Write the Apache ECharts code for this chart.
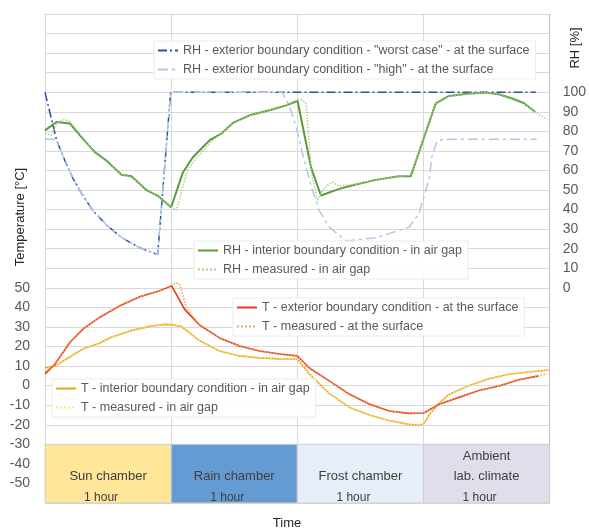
<!DOCTYPE html>
<html>
<head>
<meta charset="utf-8">
<script src="https://cdn.jsdelivr.net/npm/echarts@6/dist/echarts.min.js"></script>
<style>
  html, body { margin: 0; padding: 0; background: #ffffff; }
  #chart { width: 589px; height: 532px; }
</style>
</head>
<body>
<div id="chart"></div>
<script>
// Each point is [time in hours, value]. RH in %, temperature in °C.
const rhWorstCase = [
  [0, 100], [0.092, 75.4], [0.158, 65], [0.221, 56], [0.292, 48], [0.379, 39.5],
  [0.49, 32], [0.609, 25.6], [0.751, 20.5], [0.893, 17], [0.996, 100], [3.89, 100]
];
const rhHigh = [
  [0, 76], [0.065, 76], [0.092, 75.4], [0.158, 65], [0.221, 56], [0.292, 48],
  [0.379, 39.5], [0.49, 32], [0.609, 25.6], [0.751, 20.5], [0.893, 17], [0.996, 100],
  [1.88, 100], [1.937, 93], [1.992, 82], [2.055, 65], [2.119, 50], [2.174, 39.5],
  [2.253, 31], [2.387, 24], [2.625, 25.6], [2.885, 31], [2.964, 38], [3.043, 55],
  [3.067, 67], [3.107, 75], [3.162, 76], [3.897, 76]
];
const rhInterior = [
  [0, 80.5], [0.092, 84.8], [0.198, 84], [0.303, 76], [0.395, 69.4], [0.488, 65],
  [0.606, 57.8], [0.685, 57], [0.804, 50], [0.896, 47], [1.0, 41.2], [1.093, 59],
  [1.172, 66.8], [1.304, 75.4], [1.397, 78.8], [1.489, 84.3], [1.621, 88.2],
  [1.779, 90.8], [1.911, 93.3], [2.002, 95.5], [2.108, 61.7], [2.187, 47.2],
  [2.332, 50.6], [2.464, 52.8], [2.622, 55.2], [2.806, 57], [2.899, 57],
  [3.096, 94.2], [3.202, 98.1], [3.36, 99.3], [3.492, 99.8], [3.597, 99],
  [3.702, 96.8], [3.794, 94.5], [3.887, 89.9]
];
const rhMeasured = [
  [0, 79], [0.05, 78], [0.092, 84], [0.15, 86], [0.198, 85], [0.303, 76.5],
  [0.395, 69], [0.488, 64.5], [0.606, 58], [0.685, 56.5], [0.804, 50.5],
  [0.896, 46.5], [0.97, 43], [1.04, 39.5], [1.13, 60], [1.172, 64], [1.304, 74],
  [1.397, 79], [1.489, 84], [1.621, 88], [1.779, 91], [1.911, 93.5], [2.0, 96],
  [2.04, 96.2], [2.07, 94], [2.11, 60], [2.16, 44.6], [2.2, 50], [2.25, 53],
  [2.28, 54], [2.33, 52], [2.464, 53], [2.622, 55], [2.806, 57], [2.899, 57.5],
  [3.096, 94], [3.202, 98], [3.36, 99.3], [3.492, 99.8], [3.597, 99], [3.702, 96.5],
  [3.794, 94], [3.887, 90], [3.98, 86]
];
const tExterior = [
  [0, 6], [0.079, 11], [0.198, 22.2], [0.303, 29], [0.435, 35], [0.593, 40.8],
  [0.751, 45.4], [0.909, 48.5], [1.004, 51], [1.107, 39], [1.225, 31], [1.383, 24.4],
  [1.542, 20.3], [1.7, 17.7], [1.858, 16.2], [2.0, 15.2], [2.095, 9], [2.253, 2.4],
  [2.411, -4.3], [2.569, -9.4], [2.727, -13], [2.885, -14.2], [3.004, -14],
  [3.123, -9.5], [3.281, -6], [3.439, -2.5], [3.597, -0.2], [3.755, 3], [3.913, 5]
];
const tMeasuredSurface = [
  [0, 7.5], [0.05, 9], [0.079, 11.5], [0.198, 22], [0.303, 29], [0.435, 35],
  [0.593, 40.8], [0.751, 45.4], [0.909, 48.5], [1.004, 51.5], [1.04, 52.5],
  [1.07, 51.5], [1.12, 40], [1.225, 31], [1.383, 24.4], [1.542, 20.3], [1.7, 17.7],
  [1.858, 16.2], [2.0, 15.2], [2.095, 9], [2.253, 2.4], [2.411, -4.3], [2.569, -9.4],
  [2.727, -13], [2.885, -14.2], [3.004, -14], [3.123, -9.5], [3.281, -6],
  [3.439, -2.5], [3.597, -0.2], [3.755, 3], [3.98, 6]
];
const tInterior = [
  [0, 9], [0.079, 10], [0.17, 13.6], [0.303, 18.8], [0.435, 21.8], [0.514, 24.5],
  [0.672, 28], [0.83, 30.3], [0.95, 31.3], [1.004, 31.2], [1.083, 30.2], [1.225, 23],
  [1.383, 17.7], [1.542, 15.2], [1.7, 14.2], [1.858, 13.7], [2.0, 13.6], [2.095, 6],
  [2.253, -4], [2.411, -11], [2.569, -15], [2.727, -17.8], [2.885, -19.8],
  [2.964, -20.3], [3.004, -19.5], [3.044, -15], [3.123, -9], [3.202, -4.5],
  [3.36, 0], [3.518, 3.5], [3.676, 5.8], [3.834, 7], [3.992, 8]
];
const tMeasuredGap = [
  [0, 8.5], [0.079, 10], [0.17, 13.8], [0.303, 19], [0.435, 22], [0.514, 24.6],
  [0.672, 28], [0.83, 30.3], [0.95, 31.3], [1.004, 31.3], [1.083, 30.3], [1.225, 23.2],
  [1.383, 17.8], [1.542, 15.3], [1.7, 14.3], [1.858, 13.8], [2.0, 13.6], [2.095, 6.2],
  [2.253, -4], [2.411, -11], [2.569, -15], [2.727, -17.8], [2.885, -19.8],
  [2.964, -20.3], [3.004, -19.5], [3.044, -15], [3.123, -9], [3.202, -4.5],
  [3.36, 0], [3.518, 3.5], [3.676, 5.8], [3.834, 7], [3.992, 8]
];

// Test sequence: one hour in each chamber
const chamberNames = ['Sun chamber', 'Rain chamber', 'Frost chamber', 'Ambient\nlab. climate'];
const chamberDurations = ['1 hour', '1 hour', '1 hour', '1 hour'];
const chamberColors = ['#ffe699', '#659bd3', '#e5eef9', '#dedfea'];

// Tick labels printed on each axis
const tempTickLabels = [-50, -40, -30, -20, -10, 0, 10, 20, 30, 40, 50];
const rhTickLabels = [0, 10, 20, 30, 40, 50, 60, 70, 80, 90, 100];

const seriesNames = {
  rhWorst: 'RH - exterior boundary condition - "worst case" - at the surface',
  rhHigh: 'RH - exterior boundary condition - "high" - at the surface',
  rhInt: 'RH - interior boundary condition - in air gap',
  rhMeas: 'RH - measured - in air gap',
  tExt: 'T - exterior boundary condition - at the surface',
  tMeasSurf: 'T - measured - at the surface',
  tInt: 'T - interior boundary condition - in air gap',
  tMeasGap: 'T - measured - in air gap'
};

const FONT = '"Liberation Sans", Arial, sans-serif';
const labelGrey = '#595959';
const gridGrey = '#d9d9d9';

function line(name, data, color, type, width, yAxisIndex, extra) {
  return Object.assign({
    name: name,
    type: 'line',
    data: data,
    yAxisIndex: yAxisIndex,
    symbol: 'none',
    smooth: false,
    color: color,
    lineStyle: { color: color, type: type, width: width },
    emphasis: { disabled: true }
  }, extra || {});
}

const chamberAreas = chamberNames.map((n, i) => {
  const lines = n.split('\n').map(s => '{t|' + s + '}').join('\n');
  return [
    {
      xAxis: i, yAxis: -60,
      itemStyle: { color: chamberColors[i], borderColor: '#d0d0d0', borderWidth: 1 },
      label: { formatter: lines + '\n{h|' + chamberDurations[i] + '}' }
    },
    { xAxis: i + 1, yAxis: -30 }
  ];
});

function legendBox(names, left, top) {
  return {
    data: names,
    left: left,
    top: top,
    orient: 'vertical',
    itemWidth: 20,
    itemHeight: 12,
    itemGap: 6,
    selectedMode: false,
    padding: [3, 6, 3, 3],
    backgroundColor: 'rgba(255,255,255,0.92)',
    borderColor: '#ececec',
    borderWidth: 1,
    itemStyle: { opacity: 0 },
    textStyle: { fontFamily: FONT, fontSize: 12.5, color: labelGrey }
  };
}

const chart = echarts.init(document.getElementById('chart'), null, { renderer: 'canvas' });

chart.setOption({
  animation: false,
  backgroundColor: '#ffffff',
  textStyle: { fontFamily: FONT },
  grid: { left: 45, right: 38, top: 14, bottom: 29 },
  xAxis: {
    type: 'value', min: 0, max: 4, interval: 1,
    axisLabel: { show: false },
    axisTick: { show: false },
    axisLine: { show: true, lineStyle: { color: gridGrey } },
    splitLine: { show: true, lineStyle: { color: gridGrey, width: 1 } }
  },
  yAxis: [
    {
      type: 'value', min: -60, max: 190, interval: 10, position: 'left',
      axisLine: { show: true, lineStyle: { color: gridGrey } },
      axisTick: { show: false },
      splitLine: { show: true, lineStyle: { color: gridGrey, width: 1 } },
      axisLabel: {
        fontFamily: FONT, fontSize: 14, color: labelGrey, margin: 15,
        formatter: v => tempTickLabels.includes(v) ? String(v) : ''
      }
    },
    {
      type: 'value', min: -110, max: 140, interval: 10, position: 'right',
      axisLine: { show: true, lineStyle: { color: '#bfbfbf' } },
      axisTick: { show: false },
      splitLine: { show: false },
      axisLabel: {
        fontFamily: FONT, fontSize: 14, color: labelGrey, margin: 13,
        formatter: v => rhTickLabels.includes(v) ? String(v) : ''
      }
    }
  ],
  legend: [
    legendBox([seriesNames.rhWorst, seriesNames.rhHigh], 154, 41),
    legendBox([seriesNames.rhInt, seriesNames.rhMeas], 194, 241),
    legendBox([seriesNames.tExt, seriesNames.tMeasSurf], 233, 298),
    legendBox([seriesNames.tInt, seriesNames.tMeasGap], 52, 379)
  ],
  graphic: [
    {
      type: 'text', x: 20, y: 217, rotation: Math.PI / 2,
      style: { text: 'Temperature [°C]', font: '13px ' + FONT, fill: '#262626',
               textAlign: 'center', textVerticalAlign: 'middle' }
    },
    {
      type: 'text', x: 575, y: 48, rotation: Math.PI / 2,
      style: { text: 'RH [%]', font: '13px ' + FONT, fill: '#262626',
               textAlign: 'center', textVerticalAlign: 'middle' }
    },
    {
      type: 'text', x: 287, y: 523,
      style: { text: 'Time', font: '13px ' + FONT, fill: '#262626',
               textAlign: 'center', textVerticalAlign: 'middle' }
    }
  ],
  series: [
    line(seriesNames.tInt, tInterior, '#e3a51c', 'solid', 1.6, 0, {
      markArea: {
        silent: true,
        label: {
          show: true, position: 'insideBottom', distance: 0, offset: [0, 5],
          rich: {
            t: { fontFamily: FONT, fontSize: 13, lineHeight: 20, color: '#404040' },
            h: { fontFamily: FONT, fontSize: 12, lineHeight: 22, color: '#404040', padding: [0, 14, 0, 0] }
          }
        },
        data: chamberAreas
      }
    }),
    line(seriesNames.tMeasGap, tMeasuredGap, '#ffe38a', 'dotted', 1.5, 0),
    line(seriesNames.tExt, tExterior, '#e2361f', 'solid', 1.6, 0),
    line(seriesNames.tMeasSurf, tMeasuredSurface, '#f5a35a', 'dotted', 1.5, 0),
    line(seriesNames.rhWorst, rhWorstCase, '#2e4f9e', [9, 3, 2, 3], 1.5, 1),
    line(seriesNames.rhHigh, rhHigh, '#b4c7e7', [10, 4, 3, 4], 1.5, 1),
    line(seriesNames.rhInt, rhInterior, '#5b9a3b', 'solid', 2, 1),
    line(seriesNames.rhMeas, rhMeasured, '#a9d18e', 'dotted', 1.5, 1)
  ]
});
</script>
</body>
</html>
